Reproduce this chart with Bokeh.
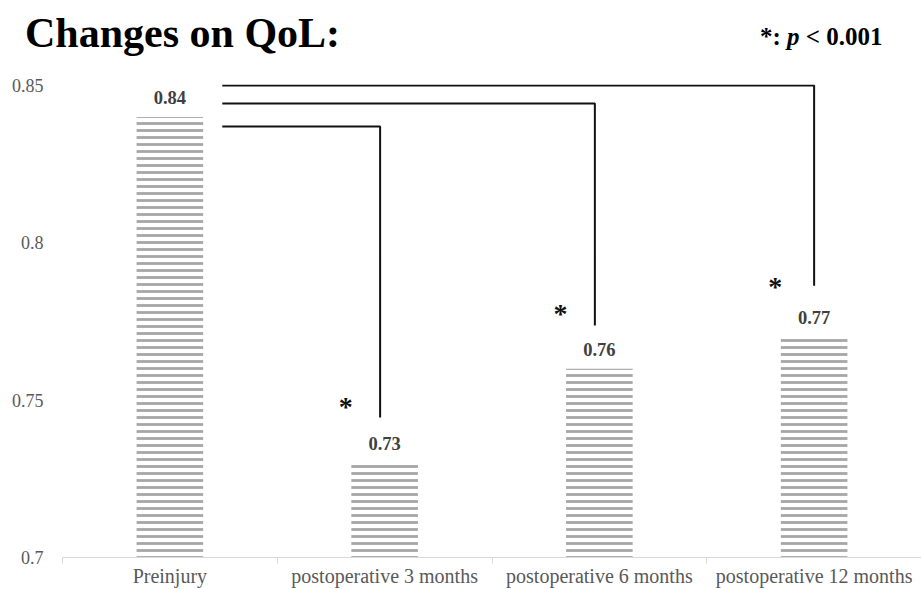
from bokeh.plotting import figure
from bokeh.models import FixedTicker, ColumnDataSource, Range1d, Div
from bokeh.layouts import column
from bokeh.core.properties import value
from bokeh.embed import file_html
from bokeh.resources import INLINE

# ---- data ----
categories = ["Preinjury", "postoperative 3 months", "postoperative 6 months", "postoperative 12 months"]
qol = [0.84, 0.73, 0.76, 0.77]
value_labels = ["0.84", "0.73", "0.76", "0.77"]
y_ticks = [0.7, 0.75, 0.8, 0.85]
y_tick_labels = ["0.7", "0.75", "0.8", "0.85"]
compare_to = [1, 2, 3]                 # category index compared against Preinjury
bracket_x = [1.479, 2.479, 3.5]        # x of the vertical drop (category units)
bracket_top = [0.837, 0.8443, 0.85]    # level of horizontal bracket line
bracket_end = [0.7445, 0.7737, 0.7864] # where the vertical drop ends
bracket_start = 0.744                  # start of bracket (category units)
star_y = [0.7489, 0.7785, 0.7871]
title_text = "Changes on QoL:"
note_parts = ["*: ", "p", " &lt; 0.001"]

SERIF = "Liberation Serif"
centers = [i + 0.5 for i in range(len(categories))]

HEADER_H = 70
header = Div(width=921, height=HEADER_H, margin=0, text=(
    f'<div style="position:relative;width:921px;height:{HEADER_H}px;font-family:\'{SERIF}\';color:#000;">'
    f'<span style="position:absolute;left:25px;top:12px;font-size:42px;font-weight:bold;line-height:1;white-space:nowrap;">{title_text}</span>'
    f'<span style="position:absolute;left:760px;top:24px;font-size:25px;font-weight:bold;line-height:1;white-space:nowrap;">'
    f'{note_parts[0]}<i>{note_parts[1]}</i>{note_parts[2]}</span></div>'))

p = figure(width=921, height=589 - HEADER_H, output_backend="svg", toolbar_location=None,
           x_range=Range1d(0, 4), y_range=Range1d(0.7, 0.85032),
           min_border_left=62, min_border_right=0, min_border_top=14, min_border_bottom=32,
           margin=0)
p.outline_line_color = None
p.xgrid.grid_line_color = None
p.ygrid.grid_line_color = None

# bars with horizontal stripes
src = ColumnDataSource(dict(x=centers, top=qol, lab=value_labels))
p.vbar(x="x", top="top", bottom=y_ticks[0], width=0.31, source=src,
       fill_color=None, line_color=None,
       hatch_pattern="horizontal_line", hatch_color="#a6a6a6",
       hatch_scale=7, hatch_weight=2.8)

# value labels
p.text(x="x", y="top", text="lab", source=src, text_align="center", text_baseline="bottom",
       y_offset=-13, text_font=value(SERIF), text_font_style="bold",
       text_font_size="18.5px", text_color="#404040")

# significance brackets
xs, ys = [], []
for bx, top, end in zip(bracket_x, bracket_top, bracket_end):
    xs.append([bracket_start, bx, bx])
    ys.append([top, top, end])
p.multi_line(xs=xs, ys=ys, line_color="#111111", line_width=2)

# stars
star_x = [centers[j] for j in compare_to]
p.text(x=star_x, y=star_y, text=["*"] * len(star_x), x_offset=-39, y_offset=3,
       text_align="center", text_baseline="middle",
       text_font=value(SERIF), text_font_style="bold",
       text_font_size="28px", text_color="#111111")

# axes
p.xaxis.ticker = FixedTicker(ticks=centers, minor_ticks=list(range(len(categories) + 1)))
p.xaxis.major_label_overrides = {c: lab for c, lab in zip(centers, categories)}
p.xaxis.axis_line_color = "#d9d9d9"
p.xaxis.major_tick_line_color = None
p.xaxis.major_tick_out = 0
p.xaxis.major_tick_in = 0
p.xaxis.minor_tick_line_color = "#d9d9d9"
p.xaxis.minor_tick_out = 6
p.xaxis.minor_tick_in = 0
p.xaxis.major_label_standoff = 1
p.xaxis.major_label_text_font = SERIF
p.xaxis.major_label_text_font_size = "20px"
p.xaxis.major_label_text_color = "#595959"

p.yaxis.ticker = FixedTicker(ticks=y_ticks)
p.yaxis.major_label_overrides = {t: lab for t, lab in zip(y_ticks, y_tick_labels)}
p.yaxis.axis_line_color = None
p.yaxis.major_tick_line_color = None
p.yaxis.minor_tick_line_color = None
p.yaxis.major_tick_out = 0
p.yaxis.major_tick_in = 0
p.yaxis.major_label_standoff = 19
p.yaxis.major_label_text_font = SERIF
p.yaxis.major_label_text_font_size = "18px"
p.yaxis.major_label_text_color = "#595959"

layout = column(header, p, margin=0)
open("out.html", "w").write(file_html(layout, INLINE))
